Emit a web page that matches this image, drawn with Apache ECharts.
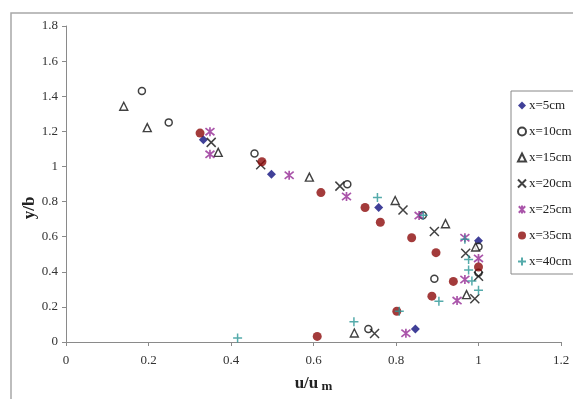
<!DOCTYPE html>
<html>
<head>
<meta charset="utf-8">
<script src="https://cdn.jsdelivr.net/npm/echarts@6/dist/echarts.min.js"></script>
<style>
  html, body { margin: 0; padding: 0; background: #fff; }
  #chart { width: 573px; height: 399px; }
</style>
</head>
<body>
<div id="chart"></div>
<script>
// [u/um, y/b] pairs for each station
const x5cm = [[0.333, 1.152], [0.498, 0.956], [0.758, 0.766], [1.0, 0.577], [0.847, 0.074]];
const x10cm = [[0.184, 1.43], [0.249, 1.251], [0.457, 1.074], [0.682, 0.899], [0.865, 0.722],
  [1.0, 0.543], [1.0, 0.395], [0.893, 0.36], [0.733, 0.074]];
const x15cm = [[0.14, 1.343], [0.197, 1.221], [0.369, 1.08], [0.59, 0.939], [0.798, 0.806],
  [0.92, 0.674], [0.993, 0.541], [0.971, 0.27], [0.699, 0.051]];
const x20cm = [[0.352, 1.137], [0.472, 1.01], [0.664, 0.888], [0.817, 0.752], [0.893, 0.629],
  [0.969, 0.505], [1.0, 0.375], [0.991, 0.246], [0.748, 0.048]];
const x25cm = [[0.349, 1.198], [0.349, 1.069], [0.541, 0.95], [0.68, 0.829], [0.856, 0.72],
  [0.967, 0.594], [1.0, 0.476], [0.967, 0.356], [0.948, 0.236], [0.824, 0.05]];
const x35cm = [[0.325, 1.19], [0.475, 1.027], [0.618, 0.851], [0.725, 0.766], [0.762, 0.682],
  [0.838, 0.594], [0.897, 0.509], [1.0, 0.427], [0.939, 0.345], [0.887, 0.261],
  [0.802, 0.175], [0.609, 0.032]];
const x40cm = [[0.755, 0.823], [0.866, 0.722], [0.967, 0.585], [0.976, 0.47], [0.976, 0.41],
  [0.984, 0.347], [1.0, 0.295], [0.904, 0.232], [0.808, 0.175], [0.698, 0.116], [0.416, 0.023]];

const seriesNames = ['x=5cm', 'x=10cm', 'x=15cm', 'x=20cm', 'x=25cm', 'x=35cm', 'x=40cm'];

const chart = echarts.init(document.getElementById('chart'));

const serif = 'Liberation Serif';
const clear = 'rgba(0,0,0,0)';
const crossPath = 'path://M0,0L10,10M10,0L0,10';
const plusPath = 'path://M5,0L5,10M0,5L10,5';
// excel "star" marker: an X with a vertical stroke through it
const starPath = 'path://M1,1L9,9M9,1L1,9M5,0L5,10';

function mk(name, data, symbol, size, style) {
  return {
    name: name,
    type: 'scatter',
    data: data,
    symbol: symbol,
    symbolSize: size,
    itemStyle: style,
    emphasis: { disabled: true }
  };
}

const option = {
  animation: false,
  backgroundColor: '#fff',
  graphic: [{
    type: 'rect',
    shape: { x: 11, y: 13, width: 600, height: 420 },
    style: { fill: 'none', stroke: '#a8a8a8', lineWidth: 1.5 },
    silent: true
  }],
  grid: { left: 66, right: 12, top: 26, bottom: 57 },
  legend: {
    orient: 'vertical',
    left: 511,
    top: 91,
    width: 80,
    padding: [8, 20, 6, 6],
    itemGap: 13,
    itemWidth: 8,
    itemHeight: 8,
    borderColor: '#888',
    borderWidth: 1,
    backgroundColor: '#fff',
    textStyle: { fontFamily: serif, fontSize: 13, color: '#222', padding: [0, 0, 0, -2] },
    data: seriesNames
  },
  xAxis: {
    type: 'value',
    min: 0, max: 1.2, interval: 0.2,
    splitLine: { show: false },
    axisLine: { lineStyle: { color: '#8a8a8a', width: 1 } },
    axisTick: { show: true, length: 4, lineStyle: { color: '#8a8a8a' } },
    axisLabel: { fontFamily: serif, fontSize: 13, color: '#333', margin: 12 },
    name: '{a|u/u}{b| m}',
    nameLocation: 'middle',
    nameGap: 32,
    nameTextStyle: {
      rich: {
        a: { fontFamily: serif, fontSize: 17, fontWeight: 'bold', color: '#222' },
        b: { fontFamily: serif, fontSize: 13, fontWeight: 'bold', color: '#222', padding: [6, 0, 0, 0] }
      }
    }
  },
  yAxis: {
    type: 'value',
    min: 0, max: 1.8, interval: 0.2,
    splitLine: { show: false },
    axisLine: { show: true, lineStyle: { color: '#8a8a8a', width: 1 } },
    axisTick: { show: true, length: 4, lineStyle: { color: '#8a8a8a' } },
    axisLabel: { fontFamily: serif, fontSize: 13, color: '#333', margin: 8 },
    name: 'y/b',
    nameLocation: 'middle',
    nameMoveOverlap: false,
    nameGap: 28,
    nameTextStyle: { fontFamily: serif, fontSize: 17, fontWeight: 'bold', color: '#222', padding: [0, 48, 0, 0] }
  },
  series: [
    mk('x=5cm', x5cm, 'diamond', 9, { color: '#10107e' }),
    mk('x=10cm', x10cm, 'circle', 7, { color: '#fff', borderColor: '#111', borderWidth: 1.5 }),
    mk('x=15cm', x15cm, 'triangle', 8, { color: '#fff', borderColor: '#111', borderWidth: 1.4 }),
    mk('x=20cm', x20cm, crossPath, 9, { color: clear, borderColor: '#111', borderWidth: 1.5 }),
    mk('x=25cm', x25cm, starPath, 9, { color: clear, borderColor: '#952b95', borderWidth: 1.7 }),
    mk('x=35cm', x35cm, 'circle', 9, { color: '#8c0a0a' }),
    mk('x=40cm', x40cm, plusPath, 9, { color: clear, borderColor: '#2a9696', borderWidth: 1.5 })
  ]
};

chart.setOption(option);
</script>
</body>
</html>
